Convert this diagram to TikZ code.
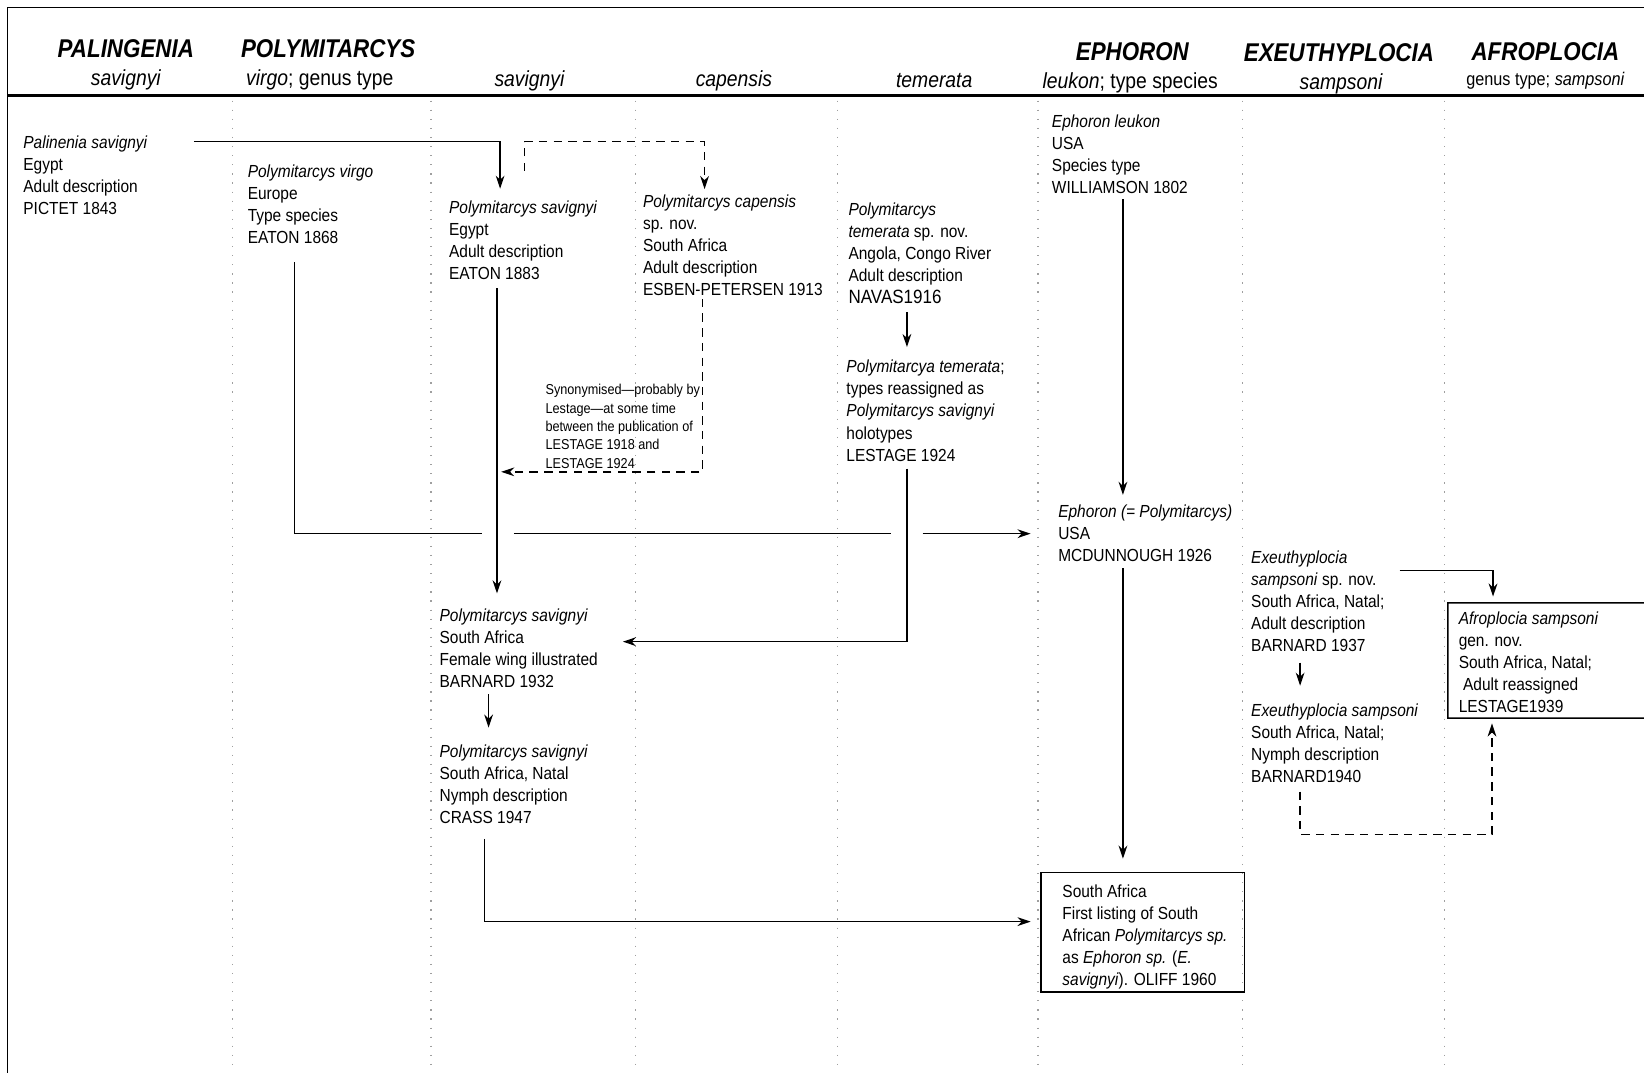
\documentclass[tikz,border=0pt]{standalone}
\usepackage{fontspec}
\setmainfont[FakeStretch=0.885]{Liberation Sans}
\newfontfamily\hdfont[FakeStretch=0.87]{Liberation Sans}
\usetikzlibrary{arrows.meta,calc}
\tikzset{
  txt/.style={anchor=north west, inner sep=0pt, align=left,
    font=\fontsize{10}{12.6}\selectfont},
  smalltxt/.style={anchor=north west, inner sep=0pt, align=left,
    font=\fontsize{8.2}{10.5}\selectfont},
  hd/.style={anchor=base, inner sep=0pt,
    font=\hdfont\bfseries\itshape\fontsize{14.7}{16}\selectfont},
  sub/.style={anchor=base, inner sep=0pt, font=\fontsize{12.5}{14}\selectfont},
  conn/.style={line width=0.8pt},
  arr/.style={conn, -{Stealth[length=7.5pt,width=5pt,inset=2.4pt]}},
  dsh/.style={dash pattern=on 4.8pt off 3.6pt},
  coldiv/.style={gray!75, line width=0.7pt, dash pattern=on 0.7pt off 4.5pt},
  boxed/.style={draw, line width=0.9pt}
}
\begin{document}
\begin{tikzpicture}[x=0.6pt,y=-0.6pt]
\useasboundingbox (0,0) rectangle (1568,1023);

% frame and rules
\draw[line width=0.7pt] (7,1023) -- (7,7) -- (1568,7);
\draw[line width=2.1pt] (7,91) -- (1568,91);

% column dividers
\foreach \cx in {222,411,606,799,990,1185,1378}
  \draw[coldiv] (\cx,96) -- (\cx,1023);

% headers
\node[hd] (hPal) at (120,55) {PALINGENIA};
\node[sub] (sPal) at (120,81.5) {\itshape savignyi};
\node[hd] (hPol) at (313,55) {POLYMITARCYS};
\node[sub] (sVir) at (305,81.5) {\textit{virgo}; genus type};
\node[sub] (sSav) at (505,82.5) {\itshape savignyi};
\node[sub] (sCap) at (700,82.5) {\itshape capensis};
\node[sub] (sTem) at (891,83.5) {\itshape temerata};
\node[hd] (hEph) at (1080,58) {EPHORON};
\node[sub] (sLeu) at (1078,84.5) {\textit{leukon}; type species};
\node[hd] (hExe) at (1277,59) {EXEUTHYPLOCIA};
\node[sub] (sSam) at (1279,85) {\itshape sampsoni};
\node[hd] (hAfr) at (1474,58) {AFROPLOCIA};
\node[sub, font=\fontsize{10.5}{12}\selectfont] (sGen) at (1474,82) {genus type; \textit{sampsoni}};

% text nodes
\node[txt] (pal) at (22,129.3) {\textit{Palinenia savignyi}\\Egypt\\Adult description\\PICTET 1843};
\node[txt] (pvir) at (236,157.3) {\textit{Polymitarcys virgo}\\Europe\\Type species\\EATON 1868};
\node[txt] (psav) at (428,191.3) {\textit{Polymitarcys savignyi}\\Egypt\\Adult description\\EATON 1883};
\node[txt] (pcap) at (613,185.3) {\textit{Polymitarcys capensis}\\sp. nov.\\South Africa\\Adult description\\ESBEN-PETERSEN 1913};
\node[txt] (ptem) at (809,193.3) {\textit{Polymitarcys}\\\textit{temerata} sp. nov.\\Angola, Congo River\\Adult description\\{\fontsize{11}{12.6}\selectfont NAVAS1916}};
\node[txt] (ptem2) at (807,343.3) {\textit{Polymitarcya temerata};\\types reassigned as\\\textit{Polymitarcys savignyi}\\holotypes\\LESTAGE 1924};
\node[smalltxt] (syn) at (520,366.3) {Synonymised—probably by\\Lestage—at some time\\between the publication of\\LESTAGE 1918 and\\LESTAGE 1924};
\node[txt] (eleu) at (1003,109.3) {\textit{Ephoron leukon}\\USA\\Species type\\WILLIAMSON 1802};
\node[txt] (eph) at (1009,481.3) {\textit{Ephoron (= Polymitarcys)}\\USA\\MCDUNNOUGH 1926};
\node[txt] (exe1) at (1193,525.3) {\textit{Exeuthyplocia}\\\textit{sampsoni} sp. nov.\\South Africa, Natal;\\Adult description\\BARNARD 1937};
\node[txt] (exe2) at (1193,671.3) {\textit{Exeuthyplocia sampsoni}\\South Africa, Natal;\\Nymph description\\BARNARD1940};
\node[txt] (afro) at (1391,583.3) {\textit{Afroplocia sampsoni}\\gen. nov.\\South Africa, Natal;\\\ Adult reassigned\\LESTAGE1939};
\node[txt] (psa32) at (419,580.3) {\textit{Polymitarcys savignyi}\\South Africa\\Female wing illustrated\\BARNARD 1932};
\node[txt] (psa47) at (419,710.3) {\textit{Polymitarcys savignyi}\\South Africa, Natal\\Nymph description\\CRASS 1947};
\node[txt] (oliff) at (1013,843.3)
  {South Africa\\First listing of South\\African \textit{Polymitarcys sp.}\\as \textit{Ephoron sp.} (\textit{E.}\\\textit{savignyi}). OLIFF 1960};

% boxes
\draw[boxed] ($(oliff.north west)+(-20,-11.3)$) rectangle ($(oliff.north west)+(174,102.7)$);
\draw[line width=0.9pt] (1568,575) -- ($(afro.north west)+(-10,-8.3)$) -- ($(afro.north west)+(-10,101.7)$) -- (1568,685);

% connectors
\draw[arr] ($(pal.north west)+(163,5.7)$) -| ($(psav.north west)+(49,-11.3)$);
\draw[arr,dsh] ($(psav.north west)+(72,-28.3)$) |- ($(pcap.north west)+(59,-50.3)$) -- ($(pcap.north west)+(59,-5)$);
\draw[arr,dsh] ($(pcap.north west)+(57,99.7)$) |- ($(psav.north west)+(50,258.7)$);
\draw[conn] ($(pvir.north west)+(45,92.7)$) |- ($(psav.north west)+(32,317.7)$);
\draw[conn] ($(psav.north west)+(62,317.7)$) -- ($(ptem2.north west)+(43,165.7)$);
\draw[arr] ($(ptem2.north west)+(73,165.7)$) -- ($(eph.north west)+(-26,27.7)$);
\draw[arr] ($(psav.north west)+(46,83.7)$) -- ($(psa32.north west)+(55,-14.3)$);
\draw[arr] ($(ptem.north west)+(56,104.7)$) -- ($(ptem2.north west)+(58,-12.3)$);
\draw[arr] ($(ptem2.north west)+(58,103.7)$) |- ($(psa32.north west)+(175,31.7)$);
\draw[arr] ($(eleu.north west)+(68,80.7)$) -- ($(eph.north west)+(62,-9.3)$);
\draw[arr] ($(eph.north west)+(62,60.7)$) -- ($(oliff.north west)+(58,-24.3)$);
\draw[arr] ($(psa47.north west)+(43,89.7)$) |- ($(oliff.north west)+(-30,35.7)$);
\draw[arr] ($(psa32.north west)+(47,81.7)$) -- ($(psa47.north west)+(47,-16.3)$);
\draw[arr] ($(exe1.north west)+(142,18.7)$) -| ($(afro.north west)+(33,-14.3)$);
\draw[arr] ($(exe1.north west)+(47,106.7)$) -- ($(exe2.north west)+(47,-17.3)$);
\draw[arr,dsh] ($(exe2.north west)+(47,83.7)$) |- ($(afro.north west)+(32,212.7)$) -- ($(afro.north west)+(32,106.7)$);
\end{tikzpicture}
\end{document}
